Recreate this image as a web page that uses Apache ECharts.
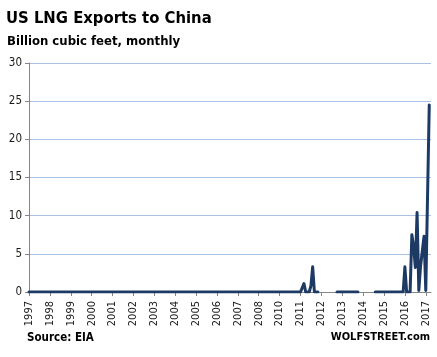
<!DOCTYPE html>
<html>
<head>
<meta charset="utf-8">
<script src="https://cdn.jsdelivr.net/npm/echarts@6/dist/echarts.min.js"></script>
<style>
html,body{margin:0;padding:0;background:#fff;}
#chart{width:437px;height:357px;}
</style>
</head>
<body>
<div id="chart"></div>
<script>
// Tick labels (one every 12 monthly categories; the original skips 2009)
var tickLabels = ['1997','1998','1999','2000','2001','2002','2003','2004','2005','2006',
                  '2007','2008','2010','2011','2012','2013','2014','2015','2016','2017'];

// Monthly values, billion cubic feet (null = no data), one row per labelled year
var valuesRows = [
  [0,0,0,0,0,0,0,0,0,0,0,0], // 1997
  [0,0,0,0,0,0,0,0,0,0,0,0], // 1998
  [0,0,0,0,0,0,0,0,0,0,0,0], // 1999
  [0,0,0,0,0,0,0,0,0,0,0,0], // 2000
  [0,0,0,0,0,0,0,0,0,0,0,0], // 2001
  [0,0,0,0,0,0,0,0,0,0,0,0], // 2002
  [0,0,0,0,0,0,0,0,0,0,0,0], // 2003
  [0,0,0,0,0,0,0,0,0,0,0,0], // 2004
  [0,0,0,0,0,0,0,0,0,0,0,0], // 2005
  [0,0,0,0,0,0,0,0,0,0,0,0], // 2006
  [0,0,0,0,0,0,0,0,0,0,0,0], // 2007
  [0,0,0,0,0,0,0,0,0,0,0,0], // 2008
  [0,0,0,0,0,0,0,0,0,0,0,0], // 2010
  [0,0,1.1,0,0,0,0.8,3.3,0,0,0,null], // 2011
  [null,null,null,null,null,null,null,null,null,0,0,0], // 2012
  [0,0,0,0,0,0,0,0,0,0,null,null], // 2013
  [null,null,null,null,null,null,null,0,0,0,0,0], // 2014
  [0,0,0,0,0,0,0,0,0,0,0,0], // 2015
  [3.3,0,0,0,7.5,6.0,3.2,10.4,0.2,3.4,3.5,7.3], // 2016
  [0.2,0,24.5,null] // 2017
];

var values = [];
valuesRows.forEach(function (r) { r.forEach(function (v) { values.push(v); }); });
var categories = values.map(function (v, i) { return 'm' + i; });

var FONT = "'DejaVu Sans Condensed', 'DejaVu Sans', sans-serif";
var chart = echarts.init(document.getElementById('chart'), null, {renderer: 'canvas'});

chart.setOption({
  animation: false,
  backgroundColor: '#ffffff',
  grid: {left: 29, right: 6, top: 63, bottom: 65, containLabel: false},
  graphic: [
    {type: 'text', left: 6, top: 10.5,
     style: {text: 'US LNG Exports to China', font: 'bold 16.5px ' + FONT, fill: '#000'}},
    {type: 'text', left: 7, top: 35,
     style: {text: 'Billion cubic feet, monthly', font: 'bold 13px ' + FONT, fill: '#000'}},
    {type: 'text', left: 27, top: 332,
     style: {text: 'Source: EIA', font: 'bold 11.5px ' + FONT, fill: '#000'}},
    {type: 'text', right: 7, top: 332,
     style: {text: 'WOLFSTREET.com', font: 'bold 11px ' + FONT, fill: '#000'}}
  ],
  xAxis: {
    type: 'category',
    data: categories,
    boundaryGap: false,
    axisLine: {show: true, lineStyle: {color: '#868686', width: 1}},
    axisTick: {show: true, length: 4, lineStyle: {color: '#868686'},
               interval: function (i) { return i % 12 === 0; }},
    axisLabel: {
      interval: function (i) { return i % 12 === 0; },
      rotate: 90, margin: 9,
      fontFamily: FONT, fontSize: 11, color: '#1a1a1a',
      formatter: function (v, i) { return i % 12 === 0 ? tickLabels[i / 12] : ''; }
    },
    splitLine: {show: false}
  },
  yAxis: {
    type: 'value', min: 0, max: 30, interval: 5,
    axisLine: {show: true, lineStyle: {color: '#868686', width: 1}},
    axisTick: {show: true, length: 4, lineStyle: {color: '#868686'}},
    axisLabel: {margin: 7, fontFamily: FONT, fontSize: 11.5, color: '#1a1a1a'},
    splitLine: {show: true, lineStyle: {color: '#a9c2e4', width: 1}}
  },
  series: [{
    type: 'line',
    data: values,
    showSymbol: false,
    connectNulls: false,
    lineStyle: {color: '#1c3a63', width: 3, join: 'round', cap: 'round'},
    z: 3
  }]
});
</script>
</body>
</html>
